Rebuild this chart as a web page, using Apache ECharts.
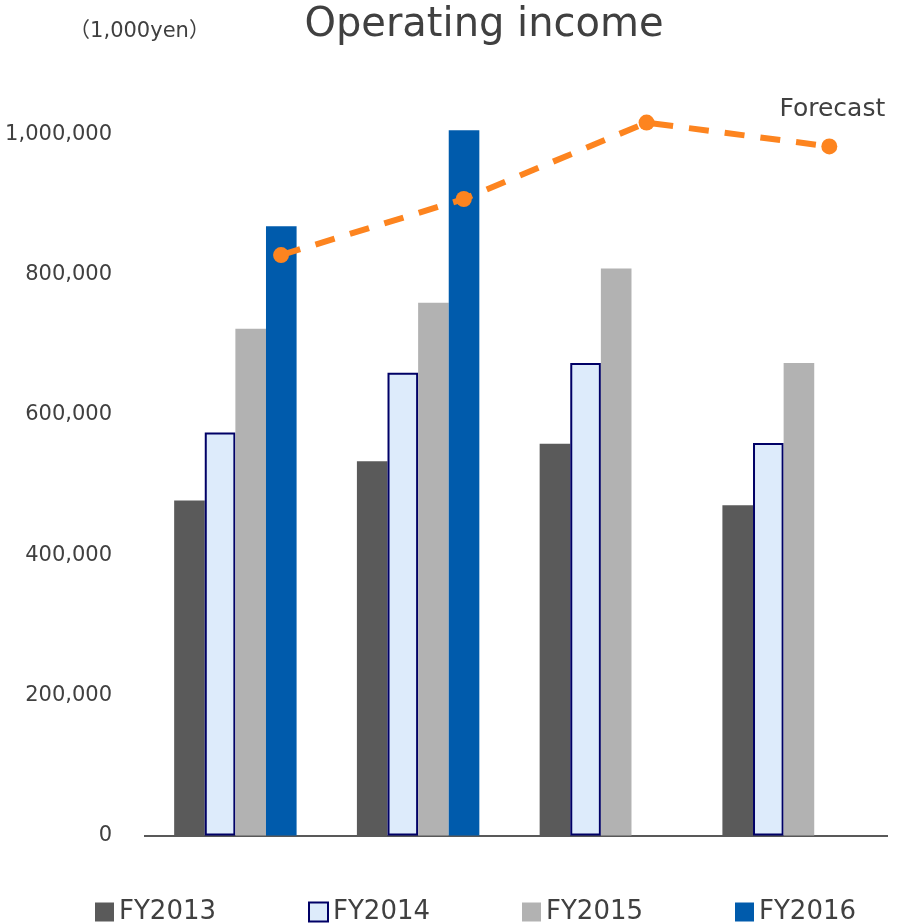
<!DOCTYPE html>
<html>
<head>
<meta charset="utf-8">
<script src="https://cdn.jsdelivr.net/npm/echarts@6/dist/echarts.min.js"></script>
<style>
  html, body { margin: 0; padding: 0; background: #ffffff; }
  #chart { width: 902px; height: 923px; }
</style>
</head>
<body>
<div id="chart"></div>
<script>
// Operating income by quarter, four fiscal years, plus the forecast line
const periods = ['1Q', '2Q', '3Q', '4Q'];
const seriesNames = ['FY2013', 'FY2014', 'FY2015', 'FY2016'];
const fy2013 = [478000, 534000, 559000, 471000];
const fy2014 = [575000, 660000, 674000, 560000];
const fy2015 = [723000, 760000, 809000, 674000];
const fy2016 = [869000, 1006000, null, null];
const forecast = [828000, 908000, 1017000, 983000];
const yTicks = [0, 200000, 400000, 600000, 800000, 1000000];

const textColor = '#404040';
const baseFont = '"DejaVu Sans", Verdana, "Noto Sans CJK JP", sans-serif';

// Each period is split into two half-slots; the forecast sits in the right half,
// above the last bar of the group.
const halfSlots = periods.flatMap(p => [p + '-L', p + '-R']);
const forecastData = forecast.map((v, i) => ({
  value: [i * 2 + 1, v],
  label: i === forecast.length - 1
    ? { show: true, formatter: 'Forecast', position: 'top', distance: 16, offset: [3, 0],
        color: textColor, fontSize: 25, fontFamily: baseFont }
    : { show: false }
}));

const barColors = ['#5a5a5a', '#ddebfb', '#b2b2b2', '#005bac'];
const barValues = [fy2013, fy2014, fy2015, fy2016];

const chart = echarts.init(document.getElementById('chart'), null, { renderer: 'canvas' });

const barSeries = seriesNames.map((name, k) => ({
  name: name,
  type: 'bar',
  data: barValues[k],
  xAxisIndex: 0,
  yAxisIndex: 0,
  barGap: '0%',
  barCategoryGap: '33%',
  itemStyle: k === 1
    ? { color: barColors[k], borderColor: '#000066', borderWidth: 2 }
    : { color: barColors[k] },
  emphasis: { disabled: true }
}));

const axisColor = '#595959';

chart.setOption({
  animation: false,
  backgroundColor: '#ffffff',
  textStyle: { fontFamily: baseFont, color: textColor },
  graphic: [
    {
      id: 'chartTitle',
      type: 'text', x: 484, y: 26,
      style: { text: 'Operating income', font: '40px ' + baseFont, fill: textColor,
               align: 'center', verticalAlign: 'middle' }
    },
    {
      id: 'unitNote',
      type: 'text', x: 139.5, y: 32,
      style: { text: '（1,000yen）', font: '21px ' + baseFont, fill: textColor,
               align: 'center', verticalAlign: 'middle' }
    }
  ],
  legend: {
    data: seriesNames,
    left: 95,
    top: 899,
    padding: 0,
    itemWidth: 19,
    itemHeight: 19,
    itemGap: 92,
    icon: 'rect',
    textStyle: { fontSize: 26, color: textColor, fontFamily: baseFont },
    selectedMode: false
  },
  grid: { left: 144, right: 27, top: 64.4, bottom: 87.5, containLabel: false },
  xAxis: [
    {
      type: 'category',
      data: periods,
      axisLine: { show: false },
      axisTick: { show: false },
      axisLabel: { show: false },
      splitLine: { show: false }
    },
    {
      type: 'category',
      data: halfSlots,
      position: 'bottom',
      show: false
    }
  ],
  yAxis: {
    type: 'value',
    min: yTicks[0],
    max: 1100000,
    interval: yTicks[1] - yTicks[0],
    axisLine: { show: false },
    axisTick: { show: false },
    splitLine: { show: false },
    axisLabel: {
      margin: 32,
      fontSize: 21,
      color: textColor,
      fontFamily: baseFont,
      showMaxLabel: false,
      formatter: v => yTicks.includes(v) ? v.toLocaleString('en-US') : ''
    }
  },
  series: barSeries.concat([
    {
      name: 'Forecast',
      type: 'line',
      xAxisIndex: 1,
      yAxisIndex: 0,
      data: forecastData,
      symbol: 'circle',
      symbolSize: 16,
      clip: false,
      z: 5,
      itemStyle: { color: '#fd841f' },
      lineStyle: { color: '#fd841f', width: 6, type: [20, 16] },
      emphasis: { disabled: true }
    }
  ])
});

// Baseline at zero: spans the category area and runs on a little to the plot frame's right edge.
const gridRect = chart.getModel().getComponent('grid').coordinateSystem.getRect();
const zeroY = Math.round(chart.convertToPixel({ yAxisIndex: 0 }, 0));
chart.setOption({
  graphic: [{
    id: 'baseline',
    type: 'line',
    shape: { x1: gridRect.x, y1: zeroY, x2: gridRect.x + gridRect.width + 13, y2: zeroY },
    style: { stroke: axisColor, lineWidth: 2 },
    z: 1
  }]
});
</script>
</body>
</html>
